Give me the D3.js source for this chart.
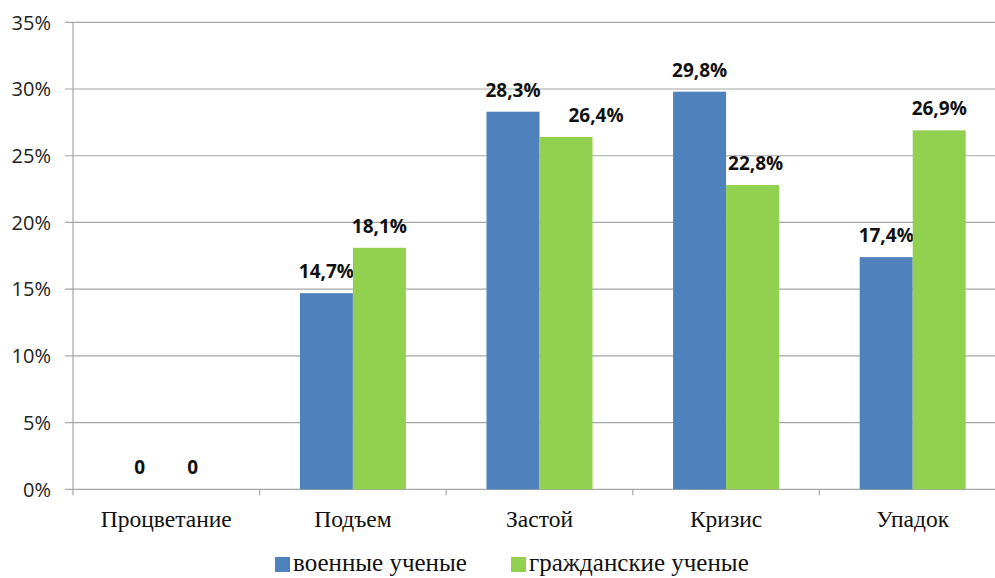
<!DOCTYPE html>
<html><head><meta charset="utf-8">
<script src="https://cdn.jsdelivr.net/npm/d3@7"></script>
<style>body{margin:0;background:#fff}svg{display:block}</style>
</head><body>
<svg id="c" width="995" height="578"></svg>
<script>
const categories = ["Процветание","Подъем","Застой","Кризис","Упадок"];
const military = [0, 14.7, 28.3, 29.8, 17.4];
const civilian = [0, 18.1, 26.4, 22.8, 26.9];
const militaryLabels = ["0","14,7%","28,3%","29,8%","17,4%"];
const civilianLabels = ["0","18,1%","26,4%","22,8%","26,9%"];
const yTicks = [0,5,10,15,20,25,30,35];
const seriesNames = ["военные ученые","гражданские ученые"];
const colors = ["#4F81BD","#92D050"];

const svg = d3.select("#c");
const x = d3.scaleBand().domain(categories).range([73, 1006]);
const y = d3.scaleLinear().domain([0,35]).range([489.3, 22.3]);
const barW = 53;

// grid
svg.append("g").selectAll("line").data(yTicks).join("line")
  .attr("x1",65).attr("x2",995)
  .attr("y1",d=>y(d)).attr("y2",d=>y(d))
  .attr("stroke","#a6a6a6").attr("stroke-width",1.2);
// y axis line
svg.append("line").attr("x1",73).attr("x2",73).attr("y1",y(35)).attr("y2",y(0)+6)
  .attr("stroke","#a6a6a6").attr("stroke-width",1.2);
// x ticks
svg.append("g").selectAll("line").data(categories.slice(1)).join("line")
  .attr("x1",d=>x(d)).attr("x2",d=>x(d)).attr("y1",y(0)).attr("y2",y(0)+6)
  .attr("stroke","#a6a6a6").attr("stroke-width",1.2);
// y labels
svg.append("g").selectAll("text").data(yTicks).join("text")
  .attr("x",51).attr("y",d=>y(d)).attr("dy","0.36em").attr("text-anchor","end")
  .attr("font-family","Open Sans, sans-serif").attr("font-size",20).attr("fill","#222")
  .text(d=>d+"%");

const series = [military, civilian];
const labels = [militaryLabels, civilianLabels];
// manual label nudges (as in the source chart, where one label was moved aside)
const nudge = (s,i)=> (s===1 && i===2) ? 30 : (s===1 && i===3 ? 3 : 0);
series.forEach((vals,s)=>{
  const cx = (i)=> x(categories[i]) + x.bandwidth()/2 + (s===0 ? -barW : 0);
  svg.append("g").selectAll("rect").data(vals).join("rect")
    .attr("x",(d,i)=>cx(i)).attr("width",barW)
    .attr("y",d=>y(d)).attr("height",d=>y(0)-y(d))
    .attr("fill",colors[s]);
  svg.append("g").selectAll("text").data(vals).join("text")
    .attr("x",(d,i)=>cx(i)+barW/2+nudge(s,i)).attr("y",d=>y(d)-15)
    .attr("text-anchor","middle")
    .attr("font-family","Open Sans, sans-serif").attr("font-weight","bold")
    .attr("font-size",19).attr("fill","#111")
    .text((d,i)=>labels[s][i]);
});

// x labels
svg.append("g").selectAll("text").data(categories).join("text")
  .attr("x",d=>x(d)+x.bandwidth()/2).attr("y",527)
  .attr("text-anchor","middle")
  .attr("font-family","Liberation Serif, serif").attr("font-size",23.5).attr("fill","#111")
  .text(d=>d);

// legend
const legX = [275, 511];
seriesNames.forEach((n,i)=>{
  svg.append("rect").attr("x",legX[i]).attr("y",557).attr("width",15).attr("height",15).attr("fill",colors[i]);
  svg.append("text").attr("x",legX[i]+18).attr("y",571)
    .attr("font-family","Liberation Serif, serif").attr("font-size",25).attr("fill","#111").text(n);
});
</script>
</body></html>
